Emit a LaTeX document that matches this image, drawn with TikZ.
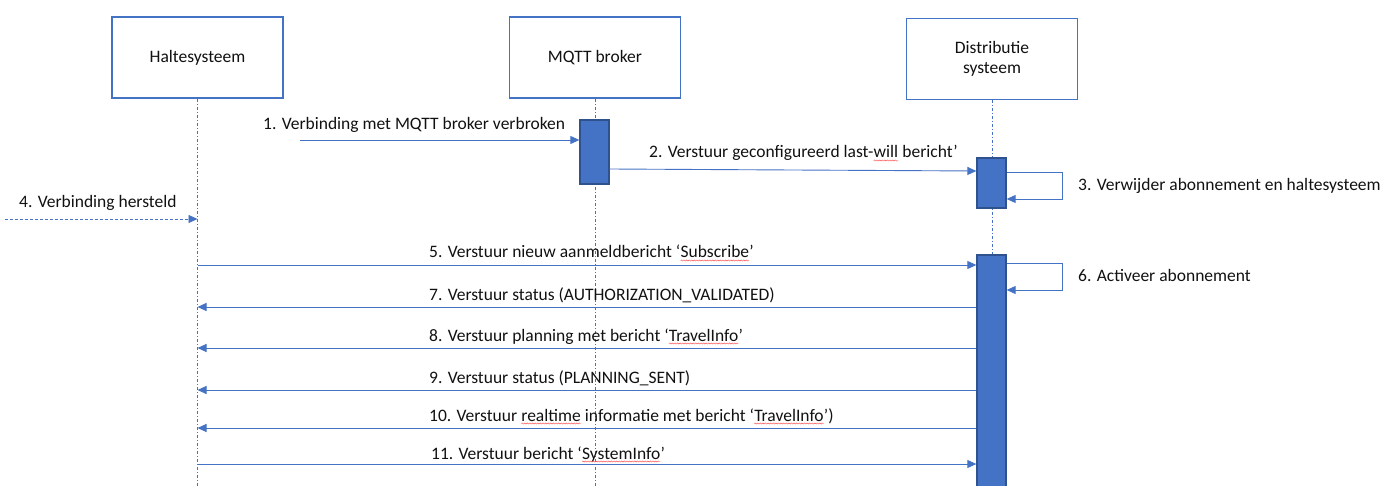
\documentclass[tikz,border=0pt]{standalone}
\usepackage{fontspec}
\setmainfont{Carlito}
\usetikzlibrary{arrows.meta,decorations.pathmorphing}
\definecolor{lb}{HTML}{4472C4}
\definecolor{db}{HTML}{2F528F}
\definecolor{txt}{HTML}{111111}
\newcommand\sq[1]{\tikz[baseline=(w.base)]{\node[inner sep=0pt,outer sep=0pt,text=txt](w){#1};\draw[red!70,line width=0.45pt,decorate,decoration={snake,amplitude=0.55pt,segment length=2.6pt}]([yshift=-2.5pt]w.base west)--([yshift=-2.5pt]w.base east);}}
\tikzset{
  actor/.style={draw=lb,line width=1.6pt,fill=white,minimum width=171pt,minimum height=81pt,inner sep=0pt,align=center,font=\fontsize{17.5}{20.5}\selectfont,text=txt},
  life/.style={draw=lb,line width=0.7pt,dash pattern=on 3pt off 2pt on 1pt off 2pt},
  act/.style={draw=db,line width=1.3pt,fill=lb,minimum width=29pt,inner sep=0pt},
  msg/.style={draw=lb,line width=0.9pt,-{Triangle[length=9pt,width=8pt]}},
  lbl/.style={font=\fontsize{17.5}{20.5}\selectfont,text=txt,inner sep=0pt,anchor=base west}
}
\begin{document}
\begin{tikzpicture}[x=1pt,y=-1pt]
\useasboundingbox (0,0) rectangle (1380,486);
\clip (0,0) rectangle (1380,486);
% actors
\node[actor] (h) at (197.5,57.5) {Haltesysteem};
\node[actor] (m) at (595,57.5) {MQTT broker};
\node[actor] (d) at (992,59) {Distributie\\systeem};
% lifelines
\draw[life] (h.south) -- (h.south |- 0,486);
\draw[life] (m.south) -- (m.south |- 0,486);
\draw[life] (d.south) -- (d.south |- 0,486);
% activations
\node[act,minimum height=64pt] (a1) at (594.5,152) {};
\node[act,minimum height=50pt] (a2) at (991.5,183) {};
\node[act,minimum height=240pt] (a3) at (991.5,375) {};
% 1
\coordinate (s1) at (300,140);
\draw[msg] (s1) -- (a1.west |- s1);
\node[lbl] (l1) at (263,130) {1. Verbinding met MQTT broker verbroken};
% 2
\draw[msg] (a1.east |- 0,169) -- (a2.west |- 0,171);
\node[lbl] (l2) at (649,158) {2. Verstuur geconfigureerd last-\sq{will} bericht’};
% 3
\draw[msg] (a2.east |- 0,172) -- (1062,172) -- (1062,199) -- (a2.east |- 0,199);
\node[lbl] (l3) at (1078,191) {3. Verwijder abonnement en haltesysteem};
% 4
\coordinate (s4) at (5,219);
\draw[msg,dash pattern=on 3pt off 2pt] (s4) -- (h.south |- s4);
\node[lbl] (l4) at (19,208) {4. Verbinding hersteld};
% 5
\draw[msg] (h.south |- 0,265) -- (a3.west |- 0,265);
\node[lbl] (l5) at (429,258) {5. Verstuur nieuw aanmeldbericht ‘\sq{Subscribe}’};
% 6
\draw[msg] (a3.east |- 0,263) -- (1062,263) -- (1062,290) -- (a3.east |- 0,290);
\node[lbl] (l6) at (1078,281) {6. Activeer abonnement};
% 7
\draw[msg] (a3.west |- 0,307) -- (h.south |- 0,307);
\node[lbl] (l7) at (429,300) {7. Verstuur status (AUTHORIZATION\_VALIDATED)};
% 8
\draw[msg] (a3.west |- 0,348) -- (h.south |- 0,348);
\node[lbl] (l8) at (429,341) {8. Verstuur planning met bericht ‘\sq{TravelInfo}’};
% 9
\draw[msg] (a3.west |- 0,390) -- (h.south |- 0,390);
\node[lbl] (l9) at (429,383) {9. Verstuur status (PLANNING\_SENT)};
% 10
\draw[msg] (a3.west |- 0,428) -- (h.south |- 0,428);
\node[lbl] (l10) at (429,421) {10. Verstuur \sq{realtime} informatie met bericht ‘\sq{TravelInfo}’)};
% 11
\draw[msg] (h.south |- 0,464) -- (a3.west |- 0,464);
\node[lbl] (l11) at (431,459) {11. Verstuur bericht ‘\sq{SystemInfo}’};
\end{tikzpicture}
\end{document}
